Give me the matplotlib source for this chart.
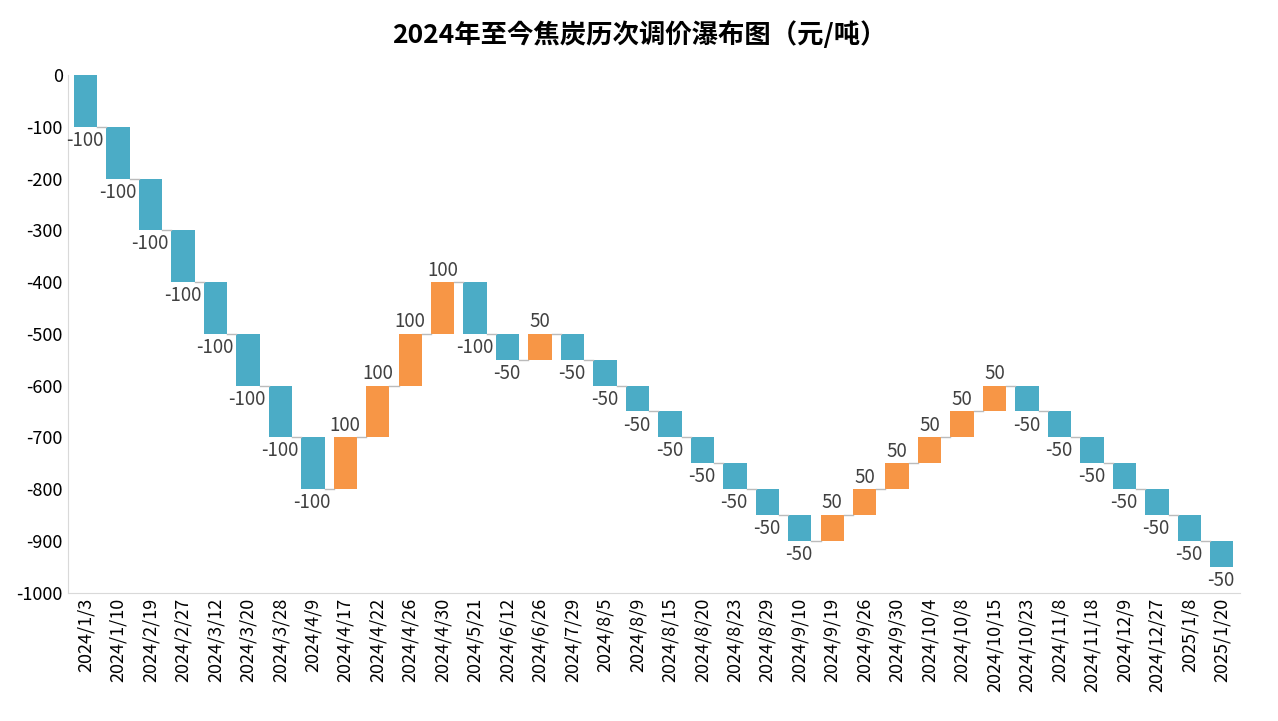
import matplotlib
matplotlib.use("Agg")
import matplotlib.pyplot as plt
from matplotlib import font_manager
import numpy as np

names = {f.name for f in font_manager.fontManager.ttflist}
cjk = [n for n in ["Noto Sans CJK SC", "Noto Sans CJK JP", "Noto Sans CJK TC", "Noto Sans CJK KR"] if n in names]
plt.rcParams["font.family"] = cjk + ["DejaVu Sans"]
plt.rcParams["axes.unicode_minus"] = False

dates = ["2024/1/3", "2024/1/10", "2024/2/19", "2024/2/27", "2024/3/12", "2024/3/20",
         "2024/3/28", "2024/4/9", "2024/4/17", "2024/4/22", "2024/4/26", "2024/4/30",
         "2024/5/21", "2024/6/12", "2024/6/26", "2024/7/29", "2024/8/5", "2024/8/9",
         "2024/8/15", "2024/8/20", "2024/8/23", "2024/8/29", "2024/9/10", "2024/9/19",
         "2024/9/26", "2024/9/30", "2024/10/4", "2024/10/8", "2024/10/15", "2024/10/23",
         "2024/11/8", "2024/11/18", "2024/12/9", "2024/12/27", "2025/1/8", "2025/1/20"]
changes = [-100] * 8 + [100] * 4 + [-100, -50, 50] + [-50] * 8 + [50] * 6 + [-50] * 7

blue = "#4BACC6"
orange = "#F79646"

fig = plt.figure(figsize=(12.78, 7.21), dpi=100)
ax = fig.add_axes([0.053, 0.178, 0.917, 0.718])

ends = np.cumsum(changes)
starts = ends - np.array(changes)
x = np.arange(len(dates))
cols = [blue if c < 0 else orange for c in changes]
ax.bar(x, changes, bottom=starts, width=0.72, color=cols)

for i in range(len(dates) - 1):
    ax.plot([i + 0.36, i + 1 - 0.36], [ends[i], ends[i]], color="#bbbbbb", lw=1)

for i, c in enumerate(changes):
    lo = min(starts[i], ends[i])
    hi = max(starts[i], ends[i])
    if c < 0:
        ax.text(i - 0.02, lo - 6, str(c), ha="center", va="top", fontsize=13.5, color="#404040")
    else:
        ax.text(i, hi + 3, str(c), ha="center", va="bottom", fontsize=13.5, color="#404040")

ax.set_xlim(-0.55, len(dates) - 0.45)
ax.set_ylim(-1000, 0)
ax.set_yticks(np.arange(-1000, 1, 100))
ax.set_xticks(x)
ax.set_xticklabels(dates, rotation=90, fontsize=13)
ax.tick_params(axis="y", labelsize=13, length=0)
ax.tick_params(axis="x", length=0)
for s in ["top", "right"]:
    ax.spines[s].set_visible(False)
ax.spines["left"].set_color("#d9d9d9")
ax.spines["bottom"].set_color("#d9d9d9")

fig.suptitle("2024年至今焦炭历次调价瀑布图（元/吨）", fontsize=19, fontweight="bold", y=0.97)
fig.savefig("out.png")
